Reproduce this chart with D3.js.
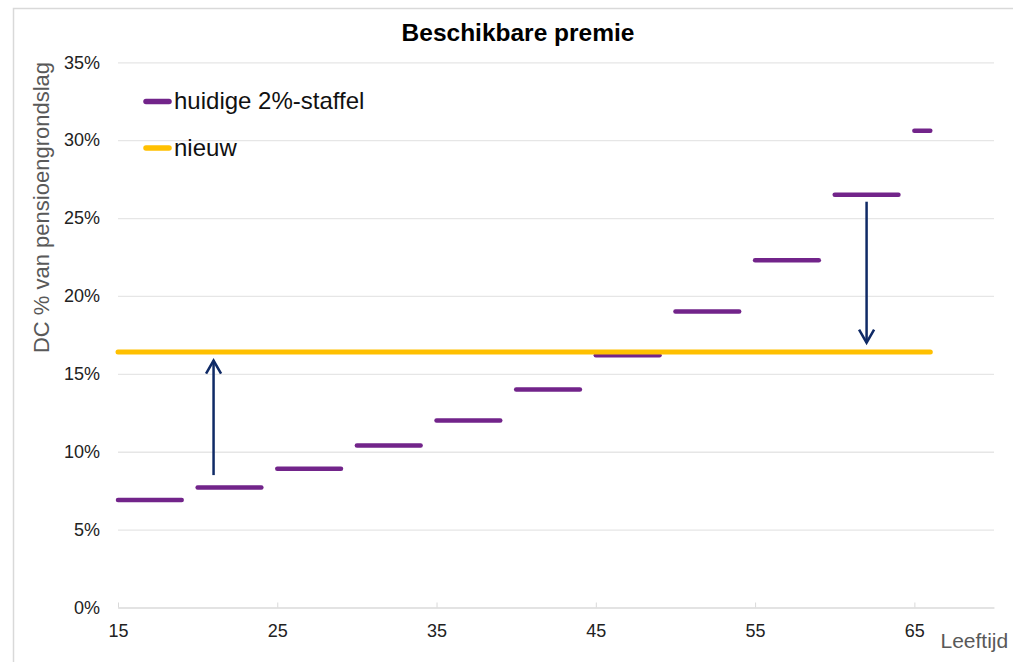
<!DOCTYPE html>
<html>
<head>
<meta charset="utf-8">
<script src="https://cdn.jsdelivr.net/npm/d3@7"></script>
<style>
  html, body { margin: 0; padding: 0; background: #fff; }
  svg { display: block; font-family: "Liberation Sans", Arial, sans-serif; }
</style>
</head>
<body>
<svg id="chart" width="1013" height="662"></svg>
<script>
// ---- data ----
const ageStart = [15, 20, 25, 30, 35, 40, 45, 50, 55, 60, 65];
const ageEnd   = [19, 24, 29, 34, 39, 44, 49, 54, 59, 64, 66];
const huidige  = [6.9, 7.7, 8.9, 10.4, 12.0, 14.0, 16.2, 19.0, 22.3, 26.5, 30.6];
const nieuwAges   = [15, 66];
const nieuwValues = [16.4, 16.4];
const arrowAge  = [21, 62];
const arrowFrom = [8.5, 26.05];
const arrowTo   = [15.85, 17.0];
const yTicks = [0, 5, 10, 15, 20, 25, 30, 35];
const xTicks = [15, 25, 35, 45, 55, 65];
const seriesNames = ["huidige 2%-staffel", "nieuw"];

// ---- layout ----
const svg = d3.select("#chart");
const plotLeft = 118, plotRight = 994, plotTop = 62.3, plotBottom = 607.5;
const x = d3.scaleLinear().domain([15, 70]).range([plotLeft, plotRight]);
const y = d3.scaleLinear().domain([0, 35]).range([plotBottom, plotTop]);
const purple = "#72248A", orange = "#FFC000", navy = "#0F2A66";

// border
svg.append("path").attr("d", "M13.5,662V8.5H1013")
  .attr("fill", "none").attr("stroke", "#d9d9d9").attr("stroke-width", 1.5);

// title
svg.append("text").attr("x", 518).attr("y", 41).attr("text-anchor", "middle")
  .attr("font-size", 24.5).attr("font-weight", "bold").attr("fill", "#000")
  .text("Beschikbare premie");

// y axis + grid
const yAxis = svg.append("g").attr("transform", `translate(${plotLeft},0)`)
  .call(d3.axisLeft(y).tickValues(yTicks).tickSize(-(plotRight - plotLeft)).tickPadding(18)
    .tickFormat(d => d + "%"));
yAxis.select(".domain").remove();
yAxis.selectAll(".tick line").attr("stroke", "#e6e6e6").attr("stroke-width", 1.3);
yAxis.selectAll(".tick text").attr("font-size", 18).attr("fill", "#222")
  .attr("font-family", "Liberation Sans, Arial, sans-serif");

// x axis
const xAxis = svg.append("g").attr("transform", `translate(0,${plotBottom})`)
  .call(d3.axisBottom(x).tickValues(xTicks).tickSize(-5).tickSizeOuter(0).tickPadding(16.5));
xAxis.select(".domain").attr("stroke", "#e0e0e0").attr("stroke-width", 1.3);
xAxis.selectAll(".tick line").attr("stroke", "#d9d9d9").attr("stroke-width", 1);
xAxis.selectAll(".tick text").attr("font-size", 18).attr("fill", "#222")
  .attr("font-family", "Liberation Sans, Arial, sans-serif");

// axis titles
svg.append("text")
  .attr("transform", `translate(48.5,207.5) rotate(-90)`)
  .attr("text-anchor", "middle").attr("font-size", 22).attr("fill", "#595959")
  .text("DC % van pensioengrondslag");
svg.append("text").attr("x", 940.5).attr("y", 648.3)
  .attr("font-size", 21).attr("fill", "#595959").text("Leeftijd");

// purple step segments
svg.append("g").selectAll("line").data(huidige).join("line")
  .attr("x1", (d, i) => x(ageStart[i])).attr("x2", (d, i) => x(ageEnd[i]))
  .attr("y1", d => y(d)).attr("y2", d => y(d))
  .attr("stroke", purple).attr("stroke-width", 4.5).attr("stroke-linecap", "round");

// orange line
const line = d3.line().x((d, i) => x(nieuwAges[i])).y(d => y(d));
svg.append("path").datum(nieuwValues).attr("d", line)
  .attr("fill", "none").attr("stroke", orange).attr("stroke-width", 5)
  .attr("stroke-linecap", "round");

// arrows
const arrows = svg.append("g").selectAll("g").data(arrowAge).join("g");
arrows.append("line")
  .attr("x1", d => x(d)).attr("x2", d => x(d))
  .attr("y1", (d, i) => y(arrowFrom[i])).attr("y2", (d, i) => y(arrowTo[i]))
  .attr("stroke", navy).attr("stroke-width", 2.5);
arrows.append("path")
  .attr("d", (d, i) => {
    const tx = x(d), ty = y(arrowTo[i]);
    const dir = arrowTo[i] > arrowFrom[i] ? 1 : -1;
    return `M${tx - 7.5},${ty + dir * 13}L${tx},${ty}L${tx + 7.5},${ty + dir * 13}`;
  })
  .attr("fill", "none").attr("stroke", navy).attr("stroke-width", 2.5)
  .attr("stroke-linejoin", "miter");

// legend
const legendColors = [purple, orange];
const legendY = [101.5, 148];
const lg = svg.append("g").selectAll("g").data(seriesNames).join("g");
lg.append("line").attr("x1", 146).attr("x2", 169)
  .attr("y1", (d, i) => legendY[i]).attr("y2", (d, i) => legendY[i])
  .attr("stroke", (d, i) => legendColors[i]).attr("stroke-width", 5.5)
  .attr("stroke-linecap", "round");
lg.append("text").attr("x", 174).attr("y", (d, i) => legendY[i] + 7.5)
  .attr("font-size", 24).attr("fill", "#111").text(d => d);
</script>
</body>
</html>
